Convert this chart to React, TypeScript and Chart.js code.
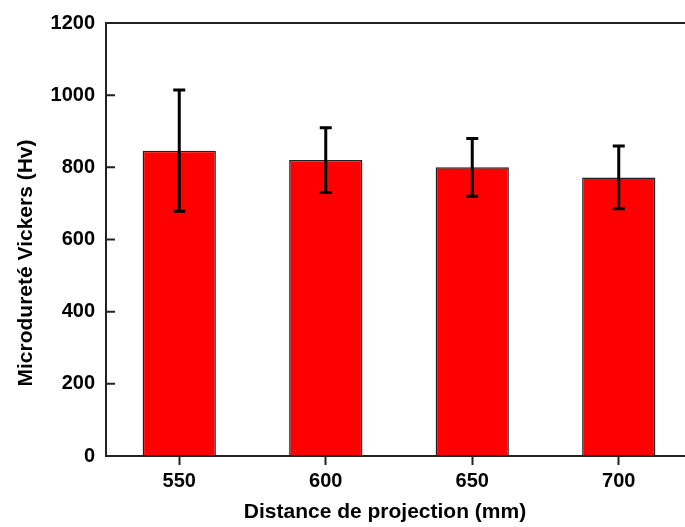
import React, { useEffect, useRef } from "react";
import { Chart, registerables } from "chart.js";

Chart.register(...registerables);

const categories = ["550", "600", "650", "700"];
const hardness = [846, 820, 800, 772];
const errors = [168, 90, 80, 87];
const yTicks = [0, 200, 400, 600, 800, 1000, 1200];
const xTitle = "Distance de projection (mm)";
const yTitle = "Microdureté Vickers (Hv)";

const FONT = "'Liberation Sans', Arial, sans-serif";

const extrasPlugin = {
  id: "extras",
  afterDatasetsDraw(chart: any) {
    const ctx = chart.ctx;
    const y = chart.scales.y;
    const meta = chart.getDatasetMeta(0);
    ctx.save();
    ctx.strokeStyle = "#000";
    ctx.lineWidth = 3;
    meta.data.forEach((bar: any, i: number) => {
      const x = bar.x;
      const top = y.getPixelForValue(hardness[i] + errors[i]);
      const bot = y.getPixelForValue(hardness[i] - errors[i]);
      ctx.beginPath();
      ctx.moveTo(x, top);
      ctx.lineTo(x, bot);
      ctx.moveTo(x - 6, top);
      ctx.lineTo(x + 6, top);
      ctx.moveTo(x - 6, bot);
      ctx.lineTo(x + 6, bot);
      ctx.stroke();
    });
    ctx.restore();
  },
  afterDraw(chart: any) {
    const ctx = chart.ctx;
    const a = chart.chartArea;
    const y = chart.scales.y;
    ctx.save();
    ctx.strokeStyle = "#222";
    ctx.lineWidth = 2;
    ctx.strokeRect(a.left, a.top, a.right - a.left, a.bottom - a.top);
    ctx.beginPath();
    yTicks.forEach((v) => {
      const py = y.getPixelForValue(v);
      ctx.moveTo(a.left, py);
      ctx.lineTo(a.left + 9, py);
    });
    ctx.stroke();
    ctx.fillStyle = "#000";
    ctx.font = `bold 21px ${FONT}`;
    ctx.textAlign = "center";
    ctx.textBaseline = "middle";
    ctx.fillText(xTitle, 385, 512);
    ctx.translate(26, 263);
    ctx.rotate(-Math.PI / 2);
    ctx.fillText(yTitle, 0, 0);
    ctx.restore();
  },
};

export default function App() {
  const ref = useRef<HTMLCanvasElement>(null);
  useEffect(() => {
    document.body.style.margin = "0";
    const chart = new Chart(ref.current!, {
      type: "bar",
      data: {
        labels: categories,
        datasets: [
          {
            data: hardness,
            backgroundColor: "#ff0000",
            borderColor: "#222",
            borderWidth: 1.5,
            categoryPercentage: 1,
            barPercentage: 0.5,
          },
        ],
      },
      options: {
        animation: false,
        responsive: false,
        maintainAspectRatio: false,
        layout: { padding: { left: 0, top: 22, right: 18, bottom: 0 } },
        plugins: { legend: { display: false }, tooltip: { enabled: false } },
        scales: {
          x: {
            afterFit: (s: any) => {
              s.height = 71;
            },
            grid: {
              display: true,
              offset: false,
              drawOnChartArea: false,
              drawTicks: true,
              tickLength: 9,
              tickWidth: 2,
              tickColor: "#222",
            },
            border: { display: false },
            ticks: {
              color: "#000",
              padding: 4,
              font: { family: FONT, size: 20, weight: "bold" },
            },
          },
          y: {
            min: 0,
            max: 1200,
            afterFit: (s: any) => {
              s.width = 106;
            },
            afterBuildTicks: (s: any) => {
              s.ticks = yTicks.map((v) => ({ value: v }));
            },
            grid: { display: false, drawTicks: false },
            border: { display: false },
            ticks: {
              color: "#000",
              padding: 11,
              callback: (v: any) => String(v),
              font: { family: FONT, size: 20, weight: "bold" },
            },
          },
        },
      },
      plugins: [extrasPlugin],
    });
    return () => chart.destroy();
  }, []);
  return (
    <div
      style={{
        position: "fixed",
        left: 0,
        top: 0,
        width: 685,
        height: 527,
        overflow: "hidden",
        background: "#fff",
      }}
    >
      <canvas ref={ref} width={710} height={527} style={{ width: 710, height: 527 }} />
    </div>
  );
}
